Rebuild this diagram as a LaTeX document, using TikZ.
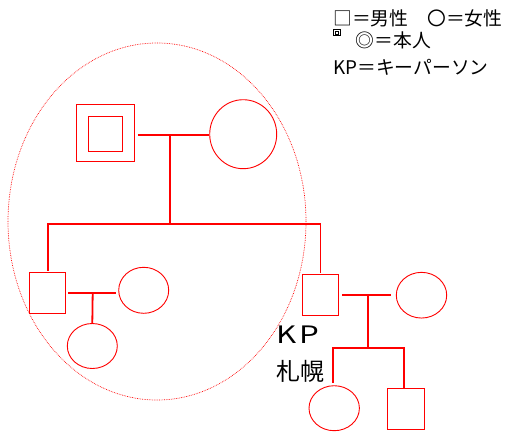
\documentclass[tikz,border=0pt]{standalone}
\usepackage{fontspec}
\setmainfont{Noto Sans CJK JP}
\usetikzlibrary{shapes.geometric}
\begin{document}
\begin{tikzpicture}[x=1pt,y=-1pt,
  shp/.style={draw=red,line width=0.9pt,inner sep=0pt},
  sq/.style={shp,rectangle},
  circ/.style={shp,ellipse},
  conn/.style={draw=red,line width=1.8pt},
  lbl/.style={inner sep=0pt,anchor=base west,text=black}]
\useasboundingbox (0,0) rectangle (510,434);
% family circle
\draw[red,densely dotted,line width=0.7pt] (157,221.5) ellipse [x radius=149,y radius=178.5];
% grandparents
\node[sq,minimum width=58pt,minimum height=57pt] (gf) at (105,133) {};
\node[sq,minimum width=34pt,minimum height=35pt] (gfi) at (105.2,133.8) {};
\node[circ,minimum width=67pt,minimum height=69pt] (gm) at (243.2,134.2) {};
\coordinate (m1) at (170,134.7);
\coordinate (sib) at (170,224);
% children
\node[sq,minimum width=36pt,minimum height=41pt] (son1) at (47.7,292.8) {};
\node[circ,minimum width=50pt,minimum height=46pt] (w1) at (143.7,290.3) {};
\node[circ,minimum width=50pt,minimum height=45pt] (d1) at (92.3,346) {};
\coordinate (m2) at (92.7,292.7);
\node[sq,minimum width=36.4pt,minimum height=40.7pt] (son2) at (320.5,294.7) {};
\node[circ,minimum width=50.4pt,minimum height=45.7pt] (w2) at (421.5,295.2) {};
\coordinate (m3) at (367.7,294.7);
\coordinate (sj) at (367.7,348);
\node[circ,minimum width=50.4pt,minimum height=45pt] (c1) at (334.2,408.2) {};
\node[sq,minimum width=36.6pt,minimum height=41pt] (c2) at (406,408.8) {};
% connectors
\draw[conn,shorten <=3.5pt] (gf.east |- m1) -- (gm.west |- m1);
\draw[conn] (m1) -- (sib);
\draw[conn,shorten <=1.3pt,shorten >=1.3pt] (son1.north) |- (sib) -| (son2.north);
\draw[conn,shorten <=2.3pt,shorten >=2pt] (son1.east |- m2) -- (w1.west |- m2);
\draw[conn] (m2) -- (d1.north);
\draw[conn,shorten <=3.3pt,shorten >=5pt] (son2.east |- m3) -- (w2.west |- m3);
\draw[conn] (m3) -- (sj);
\draw[conn,shorten <=2.4pt] (c1.north -| 333.3,0) |- (sj) -| (c2.north -| 403.7,0);
% labels
\node[lbl,font=\fontsize{24}{28}\selectfont] (kp) at (276,343.3) {\scalebox{1.3}[1]{K\kern2.5pt P}};
\node[lbl,font=\fontsize{24}{28}\selectfont] (sap) at (276.5,380) {札幌};
% legend
\node[lbl,font=\fontsize{18.8}{22}\selectfont] (leg1) at (333,25.5) {□＝男性　〇＝女性};
\draw[black,line width=0.6pt] (333.4,29.4) rectangle (340.6,35.6);
\draw[black,line width=0.5pt] (335.3,31.1) rectangle (338.7,33.9);
\node[lbl,font=\fontsize{18.8}{22}\selectfont] (leg2) at (355.5,47) {◎＝本人};
\node[lbl,font=\fontsize{18.8}{22}\selectfont] (leg3) at (333,74) {KP＝キーパーソン};
\end{tikzpicture}
\end{document}
